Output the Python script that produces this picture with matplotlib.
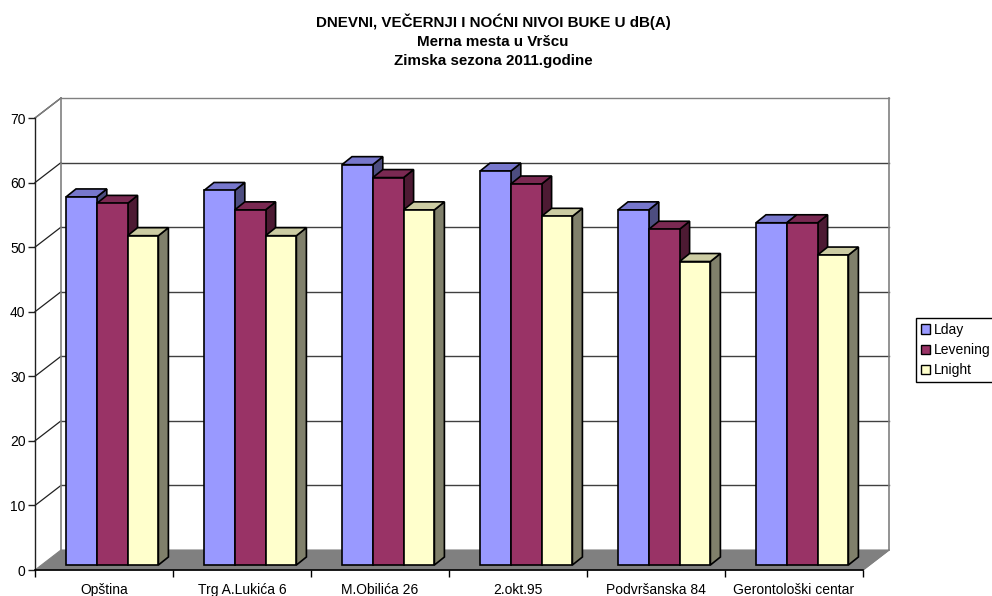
#!/usr/bin/env python3
"""Noise levels at measuring sites, drawn as pseudo 3D grouped bars."""

import matplotlib
matplotlib.use('Agg')
import matplotlib.pyplot as plt
from matplotlib.patches import Polygon, Patch

plt.rcParams['font.family'] = ['Liberation Sans', 'DejaVu Sans']

# Data
sites = ['Opština', 'Trg A.Lukića 6', 'M.Obilića 26', '2.okt.95',
         'Podvršanska 84', 'Gerontološki centar']
lday = [57, 58, 62, 61, 55, 53]
levening = [56, 55, 60, 59, 52, 53]
lnight = [51, 51, 55, 54, 47, 48]
series_names = ['Lday', 'Levening', 'Lnight']
y_ticks = [0, 10, 20, 30, 40, 50, 60, 70]

# Front face, top face, side face
colors = [('#9999FF', '#7777CC', '#4D4D80'),
          ('#993366', '#7A2952', '#4D1A33'),
          ('#FFFFCC', '#CCCCA3', '#80806B')]

W, H = 992, 596
fig = plt.figure(figsize=(W / 100, H / 100), dpi=100, facecolor='white')

# Axes are the front plane of the 3D box
left, right, y0, y70 = 35, 863, 570, 118
ax = fig.add_axes([left / W, (H - y0) / H, (right - left) / W, (y0 - y70) / H])
ax.set_xlim(0, len(sites))
ax.set_ylim(0, 70)
ax.patch.set_visible(False)

# data units per pixel
px = len(sites) / (right - left)
py = 70 / (y0 - y70)
depth_x, depth_y = 26 * px, 20 * py  # box depth
bar_dx, bar_dy = 10 * px, 8 * py  # bar depth
off_x, off_y = 6.5 * px, 5 * py  # bars stand this far behind the front plane
bar_w = 30.8 * px
n = len(sites)


def poly(points, face, edge='black', lw=1.2, z=3):
    ax.add_patch(Polygon(points, closed=True, facecolor=face, edgecolor=edge,
                         linewidth=lw, clip_on=False, zorder=z, joinstyle='miter'))


# Floor
poly([(0, 0), (depth_x, depth_y), (n + depth_x, depth_y), (n, 0)], '#808080', edge='#808080', lw=0.8, z=1)

# Walls and gridlines
for v in y_ticks[1:]:
    color = '#808080' if v == 70 else '#404040'
    ax.plot([depth_x, n + depth_x], [v + depth_y, v + depth_y], color=color, lw=1.0,
            clip_on=False, zorder=1)
    ax.plot([0, depth_x], [v, v + depth_y], color='#202020', lw=0.9, clip_on=False, zorder=1)
ax.plot([0, depth_x], [70, 70 + depth_y], color='#808080', lw=1.0, clip_on=False, zorder=1)
for xw in (depth_x, n + depth_x):
    ax.plot([xw, xw], [depth_y, 70 + depth_y], color='#808080', lw=1.2, clip_on=False, zorder=1)
ax.plot([n, n + depth_x], [0, depth_y], color='#808080', lw=1.0, clip_on=False, zorder=1)

# Bars
start = 24.5 * px
for i in range(n):
    for j, values in enumerate([lday, levening, lnight]):
        front, top, side = colors[j]
        x0 = i + start + off_x + j * bar_w
        x1 = x0 + bar_w
        b = off_y
        # the value is measured from the bar's own base
        t = b + values[i]
        z = 3 + i * 3 + j * 0.1
        poly([(x1, b), (x1 + bar_dx, b + bar_dy), (x1 + bar_dx, t + bar_dy), (x1, t)], side, z=z)
        poly([(x0, t), (x0 + bar_dx, t + bar_dy), (x1 + bar_dx, t + bar_dy), (x1, t)], top, z=z)
        poly([(x0, b), (x1, b), (x1, t), (x0, t)], front, z=z)

# Axes look
for s in ('top', 'right'):
    ax.spines[s].set_visible(False)
ax.spines['left'].set_color('#202020')
ax.spines['bottom'].set_color('black')
ax.spines['left'].set_linewidth(1.0)
ax.spines['bottom'].set_linewidth(1.2)
ax.set_yticks(y_ticks)
ax.tick_params(axis='y', length=4.8, width=1.0, labelsize=10, pad=2, color='#202020')
ax.set_xticks(range(n + 1))
ax.set_xticklabels([])
ax.set_xticks([i + 0.5 for i in range(n)], minor=True)
ax.set_xticklabels(sites, minor=True, fontsize=10)
ax.tick_params(axis='x', which='major', length=5, width=1.0)
ax.tick_params(axis='x', which='minor', length=0, pad=9.2)

# Title
fig.text(493 / W, 1 - 13 / H,
         'DNEVNI, VEČERNJI I NOĆNI NIVOI BUKE U dB(A)\nMerna mesta u Vršcu\nZimska sezona 2011.godine',
         ha='center', va='top', fontsize=10.9, fontweight='bold', linespacing=1.47)

# Legend
handles = [Patch(facecolor=c[0], edgecolor='black', linewidth=1.0, label=name)
           for c, name in zip(colors, series_names)]
fig.legend(handles=handles, loc='upper left', bbox_to_anchor=(916 / W, 1 - 318 / H),
           bbox_transform=fig.transFigure, fontsize=10, frameon=True, fancybox=False,
           edgecolor='black', framealpha=1, borderpad=0.35, borderaxespad=0,
           handlelength=0.65, handleheight=0.65, handletextpad=0.3, labelspacing=0.45)

fig.savefig('out.png', dpi=100)
